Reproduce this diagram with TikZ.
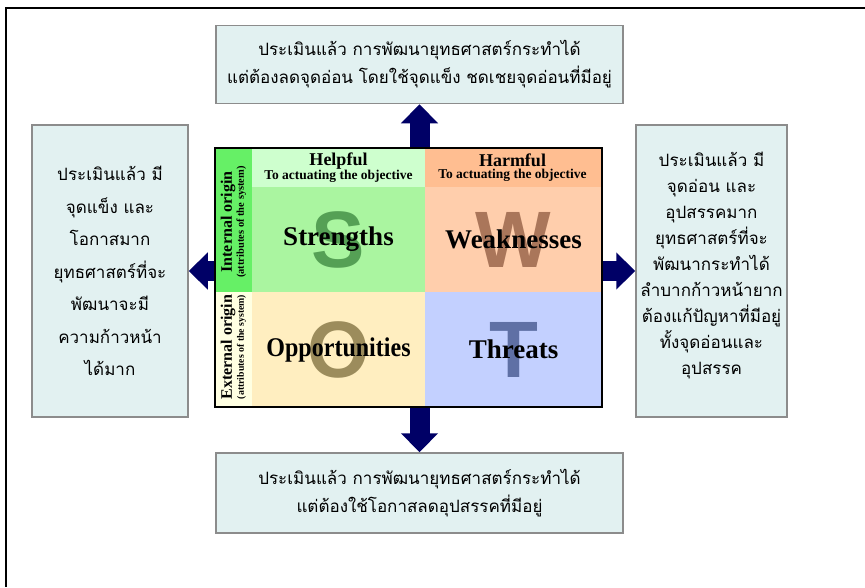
\documentclass[tikz,border=0pt]{standalone}
\usepackage{fontspec}
\setmainfont{Liberation Serif}
\newfontfamily\thaifont[Script=Thai]{Loma}
\newfontfamily\letterfont{Liberation Sans}
\usetikzlibrary{arrows.meta,positioning}
\definecolor{boxcolor}{RGB}{226,241,241}
\definecolor{boxborder}{RGB}{140,140,140}
\definecolor{arrowcolor}{RGB}{0,0,102}
\definecolor{internalcolor}{RGB}{102,240,102}
\definecolor{externalcolor}{RGB}{255,255,226}
\definecolor{helpfulcolor}{RGB}{206,255,206}
\definecolor{harmfulcolor}{RGB}{255,190,145}
\definecolor{strengthcolor}{RGB}{170,245,160}
\definecolor{weakcolor}{RGB}{255,206,172}
\definecolor{oppcolor}{RGB}{255,238,192}
\definecolor{threatcolor}{RGB}{195,208,255}
\definecolor{scolor}{RGB}{85,160,85}
\definecolor{wcolor}{RGB}{170,118,90}
\definecolor{ocolor}{RGB}{156,140,92}
\definecolor{tcolor}{RGB}{95,112,165}

\begin{document}
\begin{tikzpicture}[
        x=1pt, y=-1pt,
        thaibox/.style={rectangle, draw=boxborder, line width=1.5pt, fill=boxcolor, align=center, inner sep=0pt},
        cell/.style={rectangle, inner sep=0pt, outer sep=0pt},
        word/.style={font=\fontsize{27}{30}\selectfont\bfseries},
        bigletter/.style={font=\fontsize{80}{80}\letterfont\bfseries},
        header/.style={align=center, inner sep=0pt, font=\bfseries},
        origin/.style={rotate=90, align=center, inner sep=0pt},
        bigarrow/.style={-{Triangle[width=36pt, length=19pt]}, line width=20pt, draw=arrowcolor}
    ]
        \useasboundingbox (0,0) rectangle (865,587);

        % Outer frame
        \draw[line width=2pt] (865,8) -- (6,8) -- (6,587);

        % Evaluation boxes
        \node[thaibox, minimum width=407pt, minimum height=78pt, font=\fontsize{17}{28}\thaifont] (topbox) at (419.5,64.5)
            {ประเมินแล้ว การพัฒนายุทธศาสตร์กระทำได้\\แต่ต้องลดจุดอ่อน โดยใช้จุดแข็ง ชดเชยจุดอ่อนที่มีอยู่};
        \node[thaibox, minimum width=407pt, minimum height=80pt, font=\fontsize{17}{28}\thaifont] (bottombox) at (419.5,493)
            {ประเมินแล้ว การพัฒนายุทธศาสตร์กระทำได้\\แต่ต้องใช้โอกาสลดอุปสรรคที่มีอยู่};
        \node[thaibox, minimum width=156pt, minimum height=292pt, font=\fontsize{17}{32.5}\thaifont] (leftbox) at (110,271)
            {ประเมินแล้ว มี\\จุดแข็ง และ\\โอกาสมาก\\ยุทธศาสตร์ที่จะ\\พัฒนาจะมี\\ความก้าวหน้า\\ได้มาก};
        \node[thaibox, minimum width=151pt, minimum height=292pt] (rightbox) at (711.5,271) {};
        \node[align=center, inner sep=0pt, font=\fontsize{17}{26}\thaifont] (righttext) at ([yshift=5pt]rightbox.center)
            {ประเมินแล้ว มี\\จุดอ่อน และ\\อุปสรรคมาก\\ยุทธศาสตร์ที่จะ\\พัฒนากระทำได้\\ลำบากก้าวหน้ายาก\\ต้องแก้ปัญหาที่มีอยู่\\ทั้งจุดอ่อนและ\\อุปสรรค};

        % Origin column
        \node[cell, fill=internalcolor, minimum width=37pt, minimum height=144pt] (internal) at (233.5,220) {};
        \node[cell, fill=externalcolor, minimum width=37pt, minimum height=115pt] (external) at (233.5,349.5) {};
        \node[origin] (internallabel) at (233.5,222)
            {\fontsize{16}{15}\selectfont\bfseries Internal origin\\\fontsize{10.5}{10}\selectfont\bfseries (attributes of the system)};
        \node[origin] (externallabel) at (233.5,347)
            {\fontsize{16}{15}\selectfont\bfseries External origin\\\fontsize{9.8}{10}\selectfont\bfseries (attributes of the system)};

        % Headers
        \node[cell, fill=helpfulcolor, minimum width=173pt, minimum height=39pt] (helpful) at (338.5,167.5) {};
        \node[cell, fill=harmfulcolor, minimum width=177pt, minimum height=39pt] (harmful) at (513.5,167.5) {};
        \node[header] (helpfullabel) at (338.5,168)
            {\fontsize{18}{14}\selectfont Helpful\\\fontsize{13.5}{12}\selectfont To actuating the objective};
        \node[header] (harmfullabel) at (512.5,168)
            {\fontsize{18}{14}\selectfont Harmful\\\fontsize{13.5}{12}\selectfont To actuating the objective};

        % Quadrants
        \node[cell, fill=strengthcolor, minimum width=173pt, minimum height=105pt] (strengths) at (338.5,239.5) {};
        \node[cell, fill=weakcolor, minimum width=177pt, minimum height=105pt] (weaknesses) at (513.5,239.5) {};
        \node[cell, fill=oppcolor, minimum width=173pt, minimum height=115pt] (opportunities) at (338.5,349.5) {};
        \node[cell, fill=threatcolor, minimum width=177pt, minimum height=115pt] (threats) at (513.5,349.5) {};

        \node[bigletter, text=scolor] (sletter) at (strengths) {S};
        \node[bigletter, text=wcolor] (wletter) at (weaknesses) {W};
        \node[bigletter, text=ocolor] (oletter) at (opportunities) {O};
        \node[bigletter, text=tcolor] (tletter) at (threats) {T};

        \node[word] (strengthsword) at (strengths) {Strengths};
        \node[word] (weaknessesword) at (weaknesses) {Weaknesses};
        \node[word] (opportunitiesword) at (opportunities) {\scalebox{0.89}[1]{Opportunities}};
        \node[word] (threatsword) at (threats) {Threats};

        % SWOT frame
        \node[rectangle, draw, line width=2pt, minimum width=387pt, minimum height=259pt, inner sep=0pt] (swot) at (408.5,277.5) {};

        % Arrows out of the matrix
        \draw[bigarrow] (swot.north -| topbox.south) -- (topbox.south);
        \draw[bigarrow] (swot.south -| bottombox.north) -- (bottombox.north);
        \draw[bigarrow] (swot.west |- leftbox.east) -- (leftbox.east);
        \draw[bigarrow] (swot.east |- rightbox.west) -- (rightbox.west);

    \end{tikzpicture}
\end{document}
